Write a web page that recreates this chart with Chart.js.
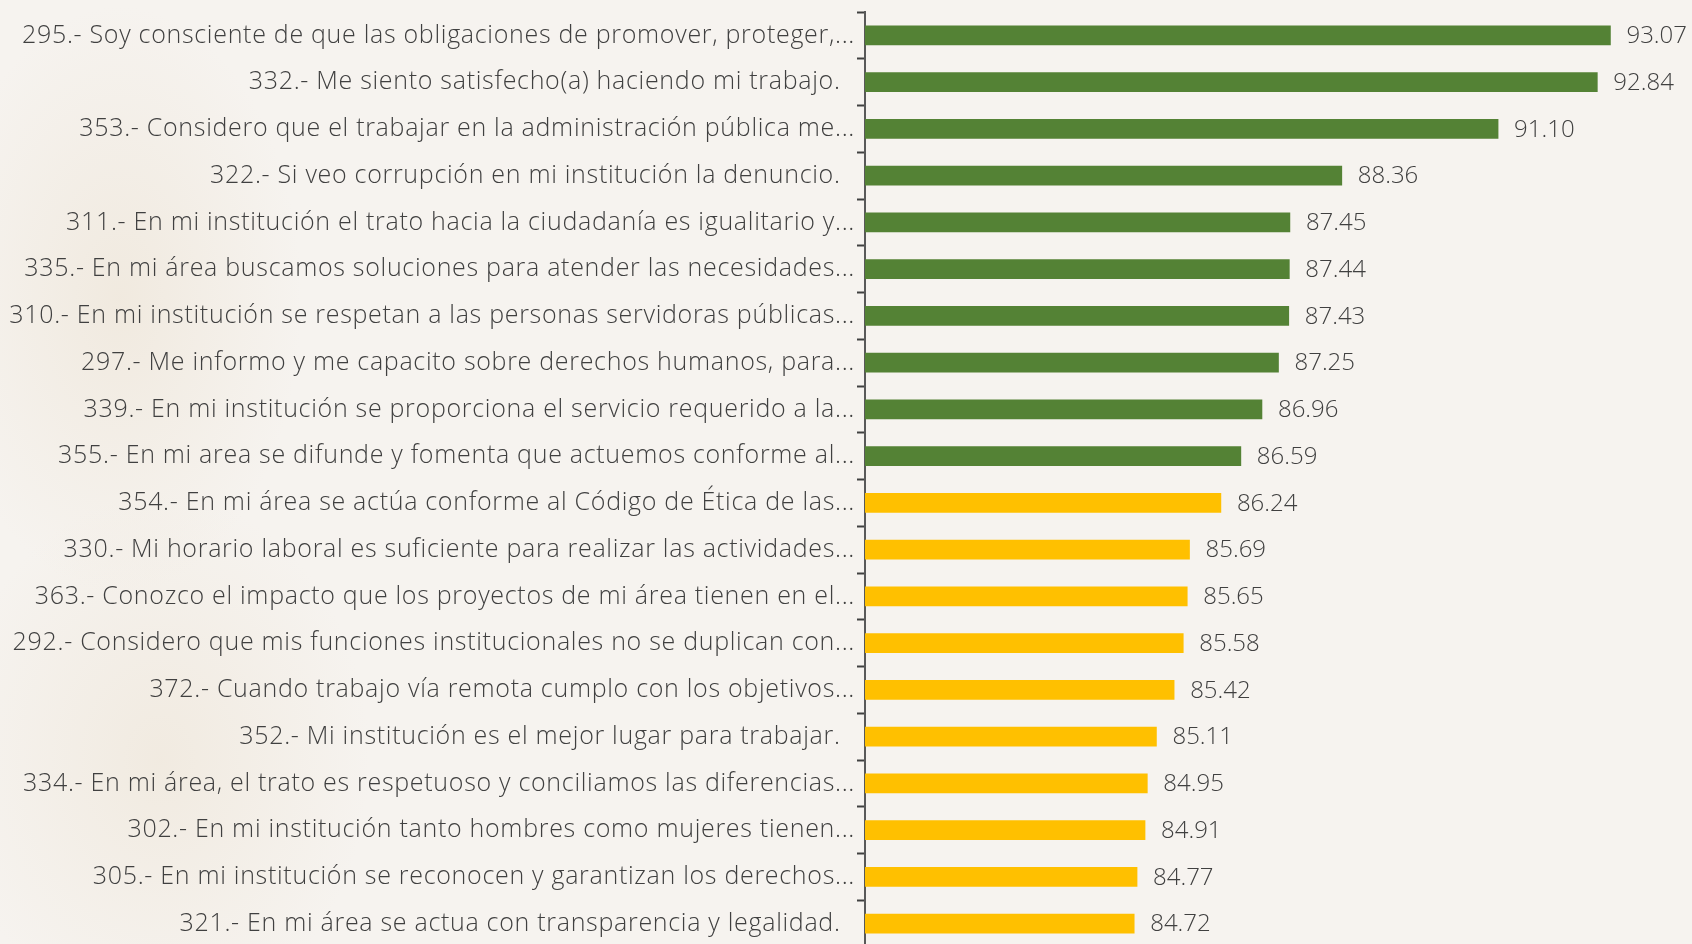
<!DOCTYPE html>
<html lang="es">
<head>
<meta charset="utf-8">
<title>Reactivos con mayor puntaje</title>
<script src="https://cdn.jsdelivr.net/npm/chart.js@4.4.1/dist/chart.umd.min.js"></script>
<style>
    html, body {
        margin: 0;
        padding: 0;
        overflow: hidden;
        background-color: #f6f3ef;
        background-image:
            radial-gradient(ellipse 260px 420px at 120px 300px, rgba(236, 226, 210, 0.55), rgba(236, 226, 210, 0) 70%),
            radial-gradient(ellipse 300px 380px at 160px 760px, rgba(236, 226, 210, 0.5), rgba(236, 226, 210, 0) 70%);
    }
    #chart { display: block; }
</style>
</head>
<body>
<canvas id="chart" width="1692" height="947"></canvas>
<script>
    // Reactivos (etiquetas tal como aparecen, truncadas)
    var questions = [
        '295.- Soy consciente de que las obligaciones de promover, proteger,...',
        '332.- Me siento satisfecho(a) haciendo mi trabajo.  ',
        '353.- Considero que el trabajar en la administración pública me...',
        '322.- Si veo corrupción en mi institución la denuncio.  ',
        '311.- En mi institución el trato hacia la ciudadanía es igualitario y...',
        '335.- En mi área buscamos soluciones para atender las necesidades...',
        '310.- En mi institución se respetan a las personas servidoras públicas...',
        '297.- Me informo y me capacito sobre derechos humanos, para...',
        '339.- En mi institución se proporciona el servicio requerido a la...',
        '355.- En mi area se difunde y fomenta que actuemos conforme al...',
        '354.- En mi área se actúa conforme al Código de Ética de las...',
        '330.- Mi horario laboral es suficiente para realizar las actividades...',
        '363.- Conozco el impacto que los proyectos de mi área tienen en el...',
        '292.- Considero que mis funciones institucionales no se duplican con...',
        '372.- Cuando trabajo vía remota cumplo con los objetivos...',
        '352.- Mi institución es el mejor lugar para trabajar.  ',
        '334.- En mi área, el trato es respetuoso y conciliamos las diferencias...',
        '302.- En mi institución tanto hombres como mujeres tienen...',
        '305.- En mi institución se reconocen y garantizan los derechos...',
        '321.- En mi área se actua con transparencia y legalidad.  '
    ];

    var scores = [
        93.07, 92.84, 91.10, 88.36, 87.45, 87.44, 87.43, 87.25, 86.96, 86.59,
        86.24, 85.69, 85.65, 85.58, 85.42, 85.11, 84.95, 84.91, 84.77, 84.72
    ];

    var axisMin = 80;
    var axisMax = 94.5;

    var topCount = 10; // los primeros reactivos van en verde
    var green = '#548235';
    var yellow = '#ffc000';
    var textColor = '#404040';
    var fontFamily = '"Open Sans", sans-serif';

    // la tipografia original es mas espaciada
    var spacing = {
        id: 'spacing',
        beforeUpdate: function (chart) { chart.ctx.letterSpacing = '0.7px'; },
        beforeDraw: function (chart) { chart.ctx.letterSpacing = '0.7px'; }
    };

    // valor al final de cada barra
    var valueLabels = {
        id: 'valueLabels',
        afterDatasetsDraw: function (chart) {
            var ctx = chart.ctx;
            var meta = chart.getDatasetMeta(0);
            ctx.save();
            ctx.letterSpacing = '0px';
            ctx.font = '300 24px ' + fontFamily;
            ctx.fillStyle = textColor;
            ctx.textAlign = 'left';
            ctx.textBaseline = 'middle';
            meta.data.forEach(function (bar, i) {
                ctx.fillText(scores[i].toFixed(2), bar.x + 16, bar.y + 1);
            });
            ctx.restore();
        }
    };

    new Chart(document.getElementById('chart').getContext('2d'), {
        type: 'bar',
        data: {
            labels: questions,
            datasets: [{
                data: scores,
                backgroundColor: function (c) { return c.dataIndex < topCount ? green : yellow; },
                barThickness: 19
            }]
        },
        options: {
            indexAxis: 'y',
            responsive: false,
            animation: false,
            layout: { padding: { top: 12, right: 0, bottom: 0, left: 0 } },
            plugins: {
                legend: { display: false },
                tooltip: { enabled: false }
            },
            scales: {
                x: {
                    display: false,
                    min: axisMin,
                    max: axisMax
                },
                y: {
                    offset: true,
                    afterFit: function (scale) {
                        scale.width = 865;
                        scale.paddingTop = 0;
                        scale.paddingBottom = 0;
                    },
                    border: { display: true, color: '#595959', width: 2 },
                    grid: {
                        offset: true,
                        drawOnChartArea: false,
                        tickLength: 8,
                        tickWidth: 2,
                        color: '#404040'
                    },
                    ticks: {
                        autoSkip: false,
                        padding: 2,
                        color: textColor,
                        font: { family: fontFamily, size: 25, weight: 300 }
                    }
                }
            }
        },
        plugins: [spacing, valueLabels]
    });
</script>
</body>
</html>
